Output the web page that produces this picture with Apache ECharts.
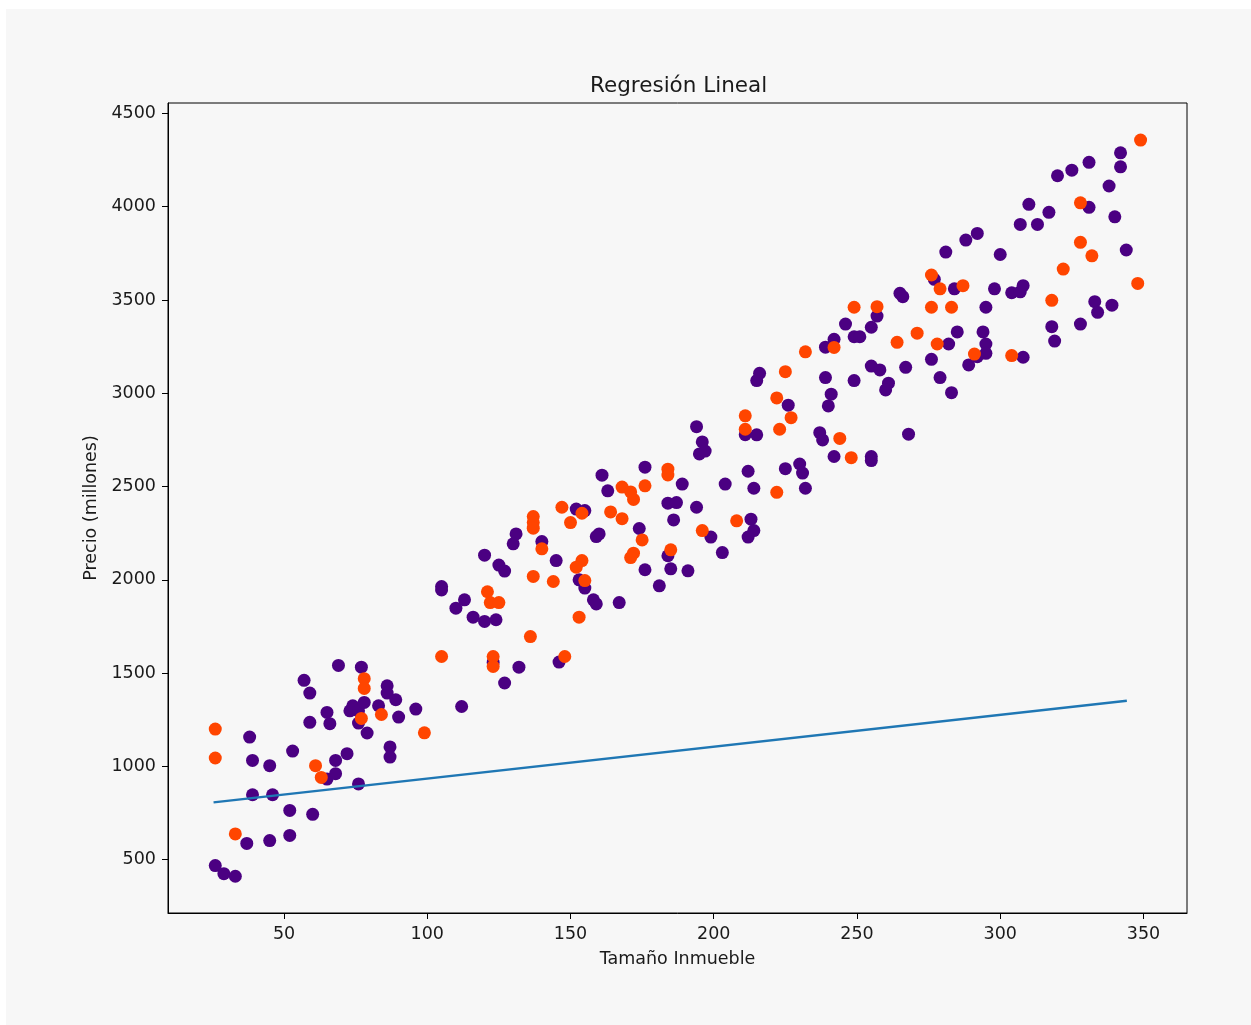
<!DOCTYPE html>
<html>
<head>
<meta charset="utf-8">
<script src="https://cdn.jsdelivr.net/npm/echarts@6/dist/echarts.min.js"></script>
<style>
html,body{margin:0;padding:0;background:#ffffff;overflow:hidden;}
#panel{position:absolute;left:6px;top:9px;right:0;bottom:0;background:#f7f7f7;}
#chart{position:absolute;left:0;top:0;width:1251px;height:1025px;}
</style>
</head>
<body>
<div id="panel"></div>
<div id="chart"></div>
<script>
// Purple (indigo) points
const purpleX = [26,29,33,37,45,52,52,60,39,46,38,39,45,53,65,68,68,72,76,59,65,66,57,59,69,77,73,74,76,78,76,79,83,86,86,89,90,87,87,96,
  152,155,184,187,186,131,130,140,159,160,174,184,185,176,181,120,125,127,145,153,155,158,159,167,105,105,113,110,116,120,124,123,132,127,146,112,
  194,196,195,197,161,176,163,189,204,194,
  242,249,251,255,257,239,216,215,239,249,255,258,241,240,226,211,215,237,238,242,255,255,212,225,230,231,232,214,213,214,212,203,191,199,
  281,288,300,277,284,298,265,266,246,295,285,282,294,295,295,289,276,267,261,260,279,283,268,
  342,342,331,325,320,338,331,340,310,317,307,313,292,344,304,307,308,333,334,339,318,319,328,292,308];
const purpleY = [468,425,411,587,602,630,764,743,848,848,1157,1032,1004,1082,932,961,1032,1068,906,1236,1289,1229,1461,1393,1541,1532,1298,1325,1298,1343,1232,1179,1325,1432,1393,1357,1264,1104,1050,1307,
  2379,2371,2411,2414,2321,2246,2193,2205,2232,2246,2275,2129,2059,2054,1968,2132,2079,2047,2103,2000,1956,1893,1871,1878,1964,1946,1893,1848,1800,1777,1786,1557,1532,1447,1559,1321,
  2821,2739,2675,2690,2561,2604,2477,2513,2513,2389,
  3289,3303,3303,3354,3414,3247,3107,3068,3084,3068,3146,3125,2995,2932,2936,2778,2777,2789,2750,2661,2661,2639,2582,2596,2621,2572,2491,2491,2325,2264,2229,2146,2048,2229,
  3757,3821,3744,3611,3560,3560,3536,3518,3371,3461,3329,3264,3329,3264,3214,3152,3182,3139,3054,3018,3084,3003,2781,
  4289,4214,4238,4196,4166,4111,3997,3946,4013,3970,3905,3905,3857,3768,3539,3544,3577,3491,3434,3472,3357,3280,3371,3196,3193];

// Orange-red points
const orangeX = [26,26,33,61,63,78,78,77,84,99,105,147,154,164,168,172,137,137,137,150,140,175,172,171,185,154,152,137,144,155,121,122,125,153,136,123,123,148,
  184,184,168,171,176,208,196,242,232,225,222,227,223,211,211,244,248,222,276,279,287,249,257,276,283,264,271,278,291,349,328,328,332,322,348,318,304];
const orangeY = [1200,1045,638,1004,941,1470,1418,1257,1278,1180,1589,2389,2357,2364,2328,2431,2339,2307,2277,2307,2166,2214,2143,2119,2161,2103,2068,2018,1991,1996,1936,1878,1878,1800,1696,1589,1536,1589,
  2593,2562,2497,2471,2504,2316,2264,3246,3222,3116,2975,2869,2807,2879,2807,2758,2655,2469,3634,3560,3577,3461,3464,3461,3461,3273,3322,3264,3210,4357,4021,3809,3737,3666,3589,3498,3202];

// Regression line endpoints
const lineX = [25.4, 344.2];
const lineY = [807, 1352];

// Tick labels
const xTicks = [50,100,150,200,250,300,350];
const yTicks = [500,1000,1500,2000,2500,3000,3500,4000,4500];

const zip = (a,b) => a.map((v,i) => [v, b[i]]);

const chart = echarts.init(document.getElementById('chart'), null, {renderer:'canvas'});
const font = 'DejaVu Sans';
const txt = '#1a1a1a';

chart.setOption({
  animation: false,
  backgroundColor: 'transparent',
  textStyle: {fontFamily: font},
  title: {
    text: 'Regresión Lineal',
    left: 585, top: 70,
    textStyle: {fontFamily: font, fontSize: 21.5, fontWeight: 'normal', color: txt}
  },
  grid: {
    left: 168, top: 103, width: 1019, height: 810,
    show: true, borderColor: '#000', borderWidth: 1, backgroundColor: 'transparent'
  },
  xAxis: {
    type: 'value', min: 9.5, max: 365.2,
    name: 'Tamaño Inmueble', nameLocation: 'middle', nameGap: 37,
    nameTextStyle: {fontFamily: font, fontSize: 17.5, color: txt},
    axisLine: {show: true, onZero: false, lineStyle: {color: '#000', width: 1}},
    axisTick: {show: true, length: 6, lineStyle: {color: '#000'}, customValues: xTicks},
    axisLabel: {margin: 12, fontFamily: font, fontSize: 17.5, color: txt, customValues: xTicks,
      formatter: v => String(v)},
    splitLine: {show: false}
  },
  yAxis: {
    type: 'value', min: 214, max: 4556,
    name: 'Precio (millones)', nameLocation: 'middle', nameGap: 63, nameRotate: 90,
    nameTextStyle: {fontFamily: font, fontSize: 17.5, color: txt},
    axisLine: {show: true, onZero: false, lineStyle: {color: '#000', width: 1}},
    axisTick: {show: true, length: 6, lineStyle: {color: '#000'}, customValues: yTicks},
    axisLabel: {margin: 12, fontFamily: font, fontSize: 17.5, color: txt, customValues: yTicks,
      padding: [4, 0, 0, 0], formatter: v => String(v)},
    splitLine: {show: false}
  },
  series: [
    {
      type: 'scatter', data: zip(purpleX, purpleY), symbol: 'circle', symbolSize: 13,
      itemStyle: {color: '#4b0082', opacity: 1}, z: 2
    },
    {
      type: 'scatter', data: zip(orangeX, orangeY), symbol: 'circle', symbolSize: 13,
      itemStyle: {color: '#ff4500', opacity: 1}, z: 3
    },
    {
      type: 'line', data: zip(lineX, lineY), showSymbol: false, symbol: 'none',
      lineStyle: {color: '#1f77b4', width: 2.5}, z: 4
    }
  ]
});
</script>
</body>
</html>
